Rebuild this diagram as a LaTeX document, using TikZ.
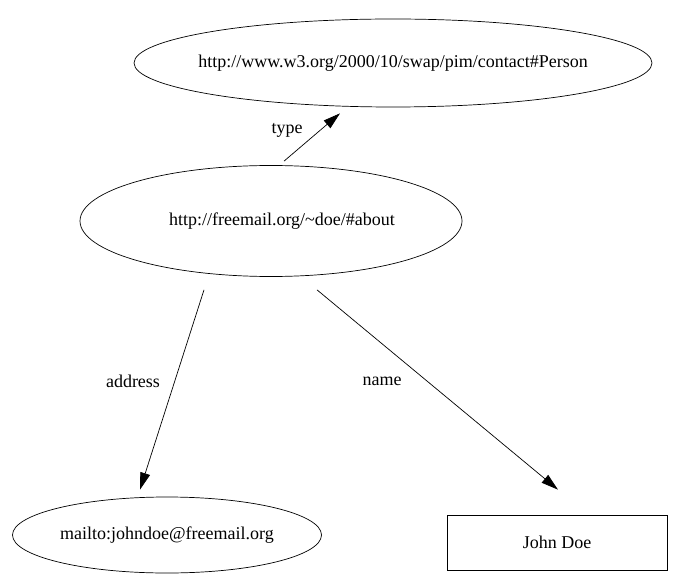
\documentclass[tikz,border=0pt]{standalone}
\usepackage{fontspec}
\setmainfont{Liberation Serif}
\usetikzlibrary{shapes.geometric,arrows.meta}
\begin{document}
\begin{tikzpicture}[x=1pt,y=1pt,
  every node/.style={font=\fontsize{18}{20}\selectfont},
  res/.style={draw,ellipse,inner sep=0pt,line width=0.7pt},
  lit/.style={draw,rectangle,inner sep=0pt,line width=0.7pt},
  edge/.style={line width=0.7pt,-{Triangle[length=17pt,width=10pt]}},
  lbl/.style={inner sep=0pt}]
\useasboundingbox (0,0) rectangle (676,576);
\fill[white] (0,0) rectangle (676,576);

% the wide class ellipse is drawn empty, its URI set on top of it
\node[res,minimum width=518pt,minimum height=88pt] (person) at (393,513) {};
\node[lbl] (persontext) at (person.center)
  {http://www.w3.org/2000/10/swap/pim/contact\#Person};
\node[res,minimum width=382pt,minimum height=111pt] (about) at (271,355)
  {\hspace*{22pt}http://freemail.org/\textasciitilde doe/\#about};
\node[res,minimum width=309pt,minimum height=76pt] (mail) at (167,41)
  {mailto:johndoe@freemail.org};
\node[lit,minimum width=220pt,minimum height=55pt] (name) at (557,33.5)
  {John Doe};

\draw[edge] ([xshift=13pt,yshift=4pt]about.north) -- ([xshift=-53pt,yshift=-6pt]person.south);
\draw[edge] ([xshift=-67pt,yshift=-13pt]about.south) -- ([xshift=-27pt,yshift=7pt]mail.north);
\draw[edge] ([xshift=46pt,yshift=-13pt]about.south) -- ([xshift=1pt,yshift=25pt]name.north);

\node[lbl] (ltype) at (287,446) {type};
\node[lbl] (laddr) at (133,195) {address};
\node[lbl] (lname) at (382,195) {name};
\end{tikzpicture}
\end{document}
